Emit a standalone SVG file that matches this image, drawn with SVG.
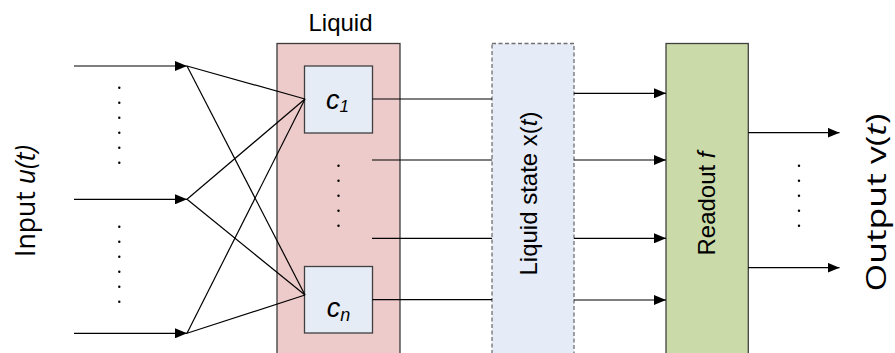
<svg xmlns="http://www.w3.org/2000/svg" width="895" height="353" viewBox="0 0 895 353">
<style>
.ln{stroke:#000;stroke-width:1.2;fill:none}
.arr{marker-end:url(#ah)}
.lbl{font-family:"Liberation Sans",Arial,sans-serif;font-size:24px;fill:#000}
.cl{font-family:"Liberation Sans",Arial,sans-serif;font-size:27px;font-style:italic;fill:#000}
.io{font-family:"Open Sans","Noto Sans",sans-serif;font-size:28px;fill:#000}
.it{font-style:italic}
.dot{fill:#000}
.cell{fill:#E5ECF6;stroke:#404040;stroke-width:1.3}
</style>
<defs>
<marker id="ah" markerUnits="userSpaceOnUse" markerWidth="13" markerHeight="10" refX="12" refY="5" orient="auto">
<path d="M0,0 L12,5 L0,10 z" fill="#000"/>
</marker>
</defs>
<rect width="895" height="353" fill="#fff"/>

<g id="input-label">
<text class="io" transform="translate(35,201) rotate(-90)" text-anchor="middle" textLength="112" lengthAdjust="spacingAndGlyphs">Input <tspan class="it">u(t)</tspan></text>
</g>

<g id="input-dots">
<circle class="dot" cx="119.3" cy="87.7" r="1.2"/><circle class="dot" cx="119.3" cy="102.7" r="1.2"/><circle class="dot" cx="119.3" cy="117.7" r="1.2"/><circle class="dot" cx="119.3" cy="132.7" r="1.2"/><circle class="dot" cx="119.3" cy="147.7" r="1.2"/><circle class="dot" cx="119.3" cy="162.7" r="1.2"/>
<circle class="dot" cx="119.3" cy="226.7" r="1.2"/><circle class="dot" cx="119.3" cy="241.7" r="1.2"/><circle class="dot" cx="119.3" cy="256.7" r="1.2"/><circle class="dot" cx="119.3" cy="271.7" r="1.2"/><circle class="dot" cx="119.3" cy="286.7" r="1.2"/><circle class="dot" cx="119.3" cy="301.7" r="1.2"/>
</g>

<g id="liquid">
<rect x="277" y="43.5" width="123" height="330" fill="#ECCBCA" stroke="#3C3C3C" stroke-width="1.3"/>
<text class="lbl" x="340.5" y="31" text-anchor="middle">Liquid</text>
<circle class="dot" cx="338.5" cy="165.7" r="1.2"/><circle class="dot" cx="338.5" cy="180.7" r="1.2"/><circle class="dot" cx="338.5" cy="195.7" r="1.2"/><circle class="dot" cx="338.5" cy="210.7" r="1.2"/><circle class="dot" cx="338.5" cy="225.7" r="1.2"/>
</g>

<g id="c1">
<rect class="cell" x="304.5" y="66" width="68" height="67"/>
<text class="cl" x="337.5" y="108.5" text-anchor="middle">c<tspan font-size="17" dy="3.5">1</tspan></text>
</g>

<g id="cn">
<rect class="cell" x="304.5" y="266.5" width="68" height="66.5"/>
<text class="cl" x="338.5" y="316.5" text-anchor="middle">c<tspan font-size="18" dy="4">n</tspan></text>
</g>

<g id="liquid-state">
<rect x="492" y="43.5" width="82" height="330" fill="#E5ECF7" stroke="#707070" stroke-width="1.3" stroke-dasharray="4,2.5"/>
<text class="lbl" transform="translate(536.7,193.5) rotate(-90)" text-anchor="middle">Liquid state x(<tspan class="it">t</tspan>)</text>
</g>

<g id="readout">
<rect x="666" y="43.5" width="82.3" height="330" fill="#CADBA9" stroke="#404040" stroke-width="1.3"/>
<text class="lbl" transform="translate(715,203.5) rotate(-90)" text-anchor="middle">Readout <tspan class="it">f</tspan></text>
</g>

<g id="output-dots">
<circle class="dot" cx="799" cy="165.7" r="1.2"/><circle class="dot" cx="799" cy="180.7" r="1.2"/><circle class="dot" cx="799" cy="195.7" r="1.2"/><circle class="dot" cx="799" cy="210.7" r="1.2"/><circle class="dot" cx="799" cy="225.7" r="1.2"/>
</g>

<g id="output-label">
<text class="io" transform="translate(886,202.5) rotate(-90)" text-anchor="middle" textLength="178" lengthAdjust="spacingAndGlyphs">Output v(<tspan class="it">t</tspan>)</text>
</g>

<g id="connectors">
<line class="ln arr" x1="74" y1="66" x2="187" y2="66"/>
<line class="ln arr" x1="74" y1="199.3" x2="187" y2="199.3"/>
<line class="ln arr" x1="74" y1="333.3" x2="187" y2="333.3"/>
<line class="ln" x1="187" y1="66" x2="305" y2="99"/>
<line class="ln" x1="187" y1="66" x2="305" y2="295"/>
<line class="ln" x1="187" y1="199.3" x2="305" y2="99"/>
<line class="ln" x1="187" y1="199.3" x2="305" y2="295"/>
<line class="ln" x1="187" y1="333.3" x2="305" y2="99"/>
<line class="ln" x1="187" y1="333.3" x2="305" y2="295"/>
<line class="ln" x1="372.5" y1="99" x2="492" y2="99"/>
<line class="ln" x1="372" y1="160" x2="492" y2="160"/>
<line class="ln" x1="372" y1="238.3" x2="492" y2="238.3"/>
<line class="ln" x1="372.5" y1="299.7" x2="492" y2="299.7"/>
<line class="ln arr" x1="574" y1="93.3" x2="666" y2="93.3"/>
<line class="ln arr" x1="574" y1="160" x2="666" y2="160"/>
<line class="ln arr" x1="574" y1="238.3" x2="666" y2="238.3"/>
<line class="ln arr" x1="574" y1="300" x2="666" y2="300"/>
<line class="ln arr" x1="748.3" y1="132.7" x2="839.5" y2="132.7"/>
<line class="ln arr" x1="748.3" y1="267.7" x2="839.5" y2="267.7"/>
</g>
</svg>
